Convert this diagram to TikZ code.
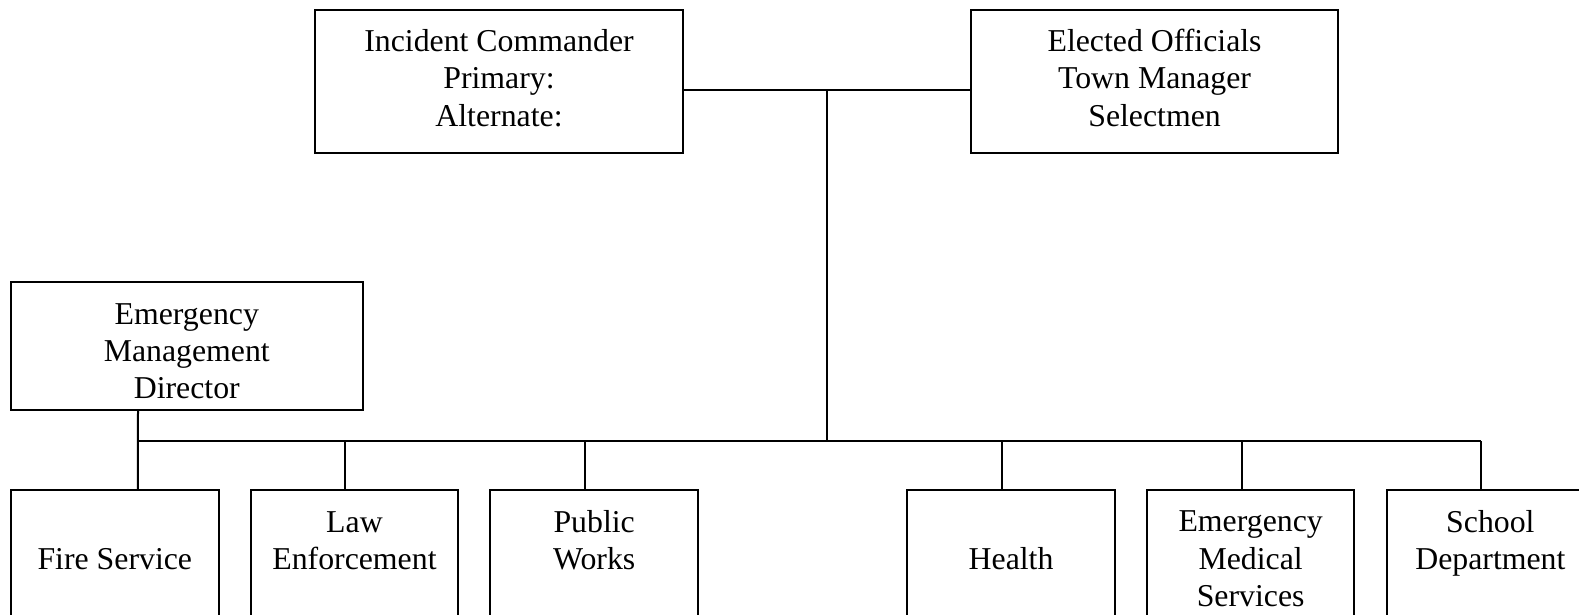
\documentclass[tikz,border=0pt]{standalone}
\usepackage{fontspec}
\setmainfont{Liberation Serif}
\begin{document}
\begin{tikzpicture}[x=0.5pt,y=-0.5pt,
  box/.style={draw, line width=1pt, inner sep=0pt},
  txt/.style={inner sep=0pt, align=center, yshift=-2pt, font=\fontsize{15.9pt}{18.6pt}\selectfont},
  topbox/.style={box, minimum width=183.8pt, minimum height=71.45pt},
  emdbox/.style={box, minimum width=175.7pt, minimum height=63.95pt},
  unitbox/.style={box, minimum width=103.75pt, minimum height=67.4pt},
  link/.style={line width=1pt}]
\useasboundingbox (0,0) rectangle (1579,615);
\clip (0,0) rectangle (1579,615);
\fill[white] (0,0) rectangle (1579,615);

\node[topbox] (IC) at (499,81.55) {};
\node[topbox] (EO) at (1154.55,81.55) {};
\node[emdbox] (EMD) at (186.8,345.75) {};
\node[unitbox] (Fire) at (114.8,557.6) {};
\node[unitbox] (Law) at (354.45,557.6) {};
\node[unitbox] (PW) at (594.15,557.6) {};
\node[unitbox] (Health) at (1011.05,557.6) {};
\node[unitbox] (EMS) at (1250.65,557.6) {};
\node[unitbox] (School) at (1490.35,557.6) {};

\node[txt] (ICt) at (IC |- 0,77.5) {Incident Commander\strut\\Primary:\strut\\Alternate:\strut};
\node[txt] (EOt) at (EO |- 0,77.5) {Elected Officials\strut\\Town Manager\strut\\Selectmen\strut};
\node[txt] (EMDt) at (EMD |- 0,350.3) {Emergency\strut\\Management\strut\\Director\strut};
\node[txt] (Firet) at (Fire |- 0,557.6) {Fire Service\strut};
\node[txt] (Lawt) at (Law |- 0,539.5) {Law\strut\\Enforcement\strut};
\node[txt] (PWt) at (PW |- 0,539.5) {Public\strut\\Works\strut};
\node[txt] (Healtht) at (Health |- 0,557.6) {Health\strut};
\node[txt] (EMSt) at (EMS |- 0,557.6) {Emergency\strut\\Medical\strut\\Services\strut};
\node[txt] (Schoolt) at (School |- 0,539.5) {School\strut\\Department\strut};

\coordinate (top) at ([yshift=-4pt]IC.east -| 826.8,0);
\coordinate (hub) at (826.8,440.9);

\draw[link] ([yshift=-4pt]IC.east) -- ([yshift=-4pt]EO.west);
\draw[link] (top) -- (hub);

\coordinate (cFire) at ([xshift=63.95pt]Fire.north west);
\coordinate (cEMD) at ([xshift=63.95pt]EMD.south west);
\coordinate (cLaw) at ([xshift=47.85pt]Law.north west);
\coordinate (cPW) at ([xshift=47.85pt]PW.north west);
\coordinate (cHealth) at ([xshift=47.85pt]Health.north west);
\coordinate (cEMS) at ([xshift=47.85pt]EMS.north west);
\coordinate (cSchool) at ([xshift=47.85pt]School.north west);

\draw[link] (cEMD) -- (cFire);
\draw[link] (cEMD |- hub) -- (cSchool |- hub);
\foreach \c in {cLaw,cPW,cHealth,cEMS,cSchool}
  \draw[link] (\c) -- (\c |- hub);
\end{tikzpicture}
\end{document}
